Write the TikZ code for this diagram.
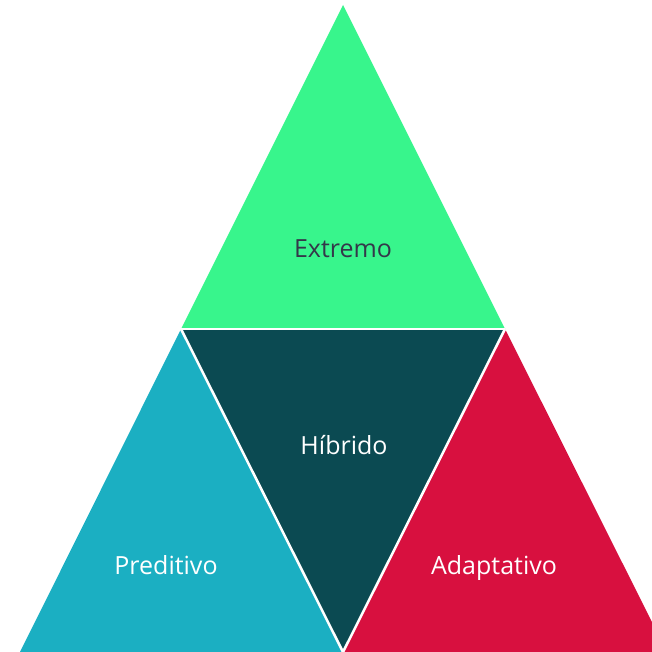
\documentclass[tikz,border=0pt]{standalone}
\usepackage{fontspec}
\setmainfont{Open Sans}
\definecolor{extremo}{HTML}{38F58C}
\definecolor{hibrido}{HTML}{0B4A52}
\definecolor{preditivo}{HTML}{1BAFC2}
\definecolor{adaptativo}{HTML}{D8103F}
\definecolor{darktext}{HTML}{34374A}
\begin{document}
\begin{tikzpicture}[x=1pt,y=1pt,
  seam/.style={draw=white,line width=2.5pt,line cap=butt},
  label/.style={font=\fontsize{25}{29}\selectfont,anchor=base,inner sep=0pt}]
\useasboundingbox (0,0) rectangle (652,652);
\clip (0,0) rectangle (652,652);
% corner points of the four triangles
\coordinate (top) at (343,647);
\coordinate (ml) at (181,323);
\coordinate (mr) at (505,323);
\coordinate (bl) at (20,0);
\coordinate (bc) at (343,0);
\coordinate (br) at (667,0);
\fill[extremo] (top) -- (ml) -- (mr) -- cycle;
\fill[hibrido] (ml) -- (mr) -- (bc) -- cycle;
\fill[preditivo] (ml) -- (bl) -- (bc) -- cycle;
\fill[adaptativo] (mr) -- (bc) -- (br) -- cycle;
% white seams between the pieces
\draw[seam] (ml) -- (mr);
\draw[seam] (ml) -- (bc);
\draw[seam] (mr) -- (bc);
\node[label,text=darktext] (ext) at (343,394) {Extremo};
\node[label,text=white] (hib) at (344,197) {Híbrido};
\node[label,text=white] (pre) at (166,77) {Preditivo};
\node[label,text=white] (ada) at (494,77) {Adaptativo};
\end{tikzpicture}
\end{document}
